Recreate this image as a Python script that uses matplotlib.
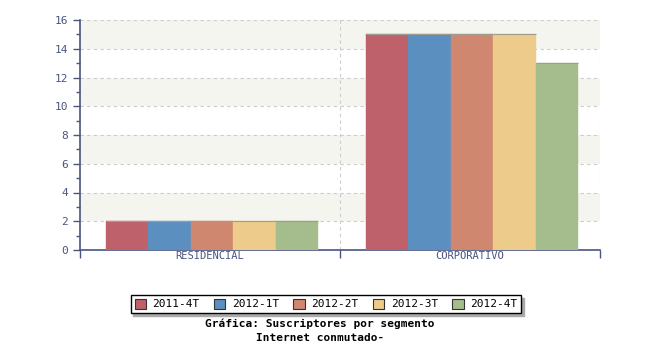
import numpy as np
import matplotlib.pyplot as plt
from matplotlib.ticker import MultipleLocator

categorias = ['RESIDENCIAL', 'CORPORATIVO']
periodos = ['2011-4T', '2012-1T', '2012-2T', '2012-3T', '2012-4T']
valores = {
    '2011-4T': [2, 15],
    '2012-1T': [2, 15],
    '2012-2T': [2, 15],
    '2012-3T': [2, 15],
    '2012-4T': [2, 13],
}
colores = ['#bf616a', '#5b8fbf', '#d0876f', '#eccb8b', '#a5bd8c']

eje = '#4a5580'
mono = 'DejaVu Sans Mono'

fig = plt.figure(figsize=(6.5, 3.5), dpi=100)
ax = fig.add_axes([80/650, 100/350, 520/650, 230/350])

# bandas alternas de fondo
for y0 in range(2, 16, 4):
    ax.axhspan(y0, y0 + 2, color='#f5f5f0', zorder=0, lw=0)

ancho = 0.163
ind = np.arange(len(categorias))
for i, p in enumerate(periodos):
    ax.bar(ind + 0.1 + i * ancho, valores[p], ancho, align='edge',
           color=colores[i], edgecolor=colores[i], linewidth=0.3, zorder=3,
           label=p)
    # linea fina gris arriba de cada barra
    ax.hlines(valores[p], ind + 0.1 + i * ancho, ind + 0.1 + (i + 1) * ancho,
              color='#a09c90', lw=0.8, zorder=4)

ax.set_xlim(0, 2)
ax.set_ylim(0, 16)
ax.yaxis.set_major_locator(MultipleLocator(2))
ax.yaxis.set_minor_locator(MultipleLocator(1))
ax.set_xticks([0, 1, 2])
ax.set_xticklabels([])
ax.set_xticks([0.5, 1.5], minor=True)
ax.set_xticklabels(categorias, minor=True, fontfamily=mono, fontsize=7.5, color=eje)
ax.tick_params(axis='x', which='minor', length=0, pad=1)
ax.tick_params(axis='x', which='major', length=6, direction='out', color=eje, width=1)
ax.tick_params(axis='y', which='major', length=5, color=eje, width=1, labelsize=8,
               labelcolor=eje)
ax.tick_params(axis='y', which='minor', length=3, color=eje, width=1)
for lbl in ax.get_yticklabels():
    lbl.set_fontfamily(mono)

ax.grid(axis='y', which='major', color='#cccccc', linestyle=(0, (3, 3)), lw=0.8, zorder=1)
ax.axvline(1, color='#cccccc', linestyle=(0, (3, 3)), lw=0.8, zorder=1)
ax.axvline(2, color='#cccccc', linestyle=(0, (3, 3)), lw=0.8, zorder=1)

for s in ['top', 'right']:
    ax.spines[s].set_visible(False)
for s in ['left', 'bottom']:
    ax.spines[s].set_color(eje)
    ax.spines[s].set_linewidth(1.2)

leg = fig.legend(loc='center', bbox_to_anchor=(326/650, 1 - 304/350), ncol=5,
                 prop={'family': mono, 'size': 8}, frameon=True, fancybox=False,
                 shadow={'color': '#aaaaaa', 'alpha': 1}, edgecolor='black',
                 handlelength=1.0, handleheight=1.0, handletextpad=0.6,
                 columnspacing=1.3, borderpad=0.35)
leg.get_frame().set_linewidth(1)
for h in leg.legend_handles:
    h.set_edgecolor('#333333')
    h.set_linewidth(0.8)

fig.text(320/650, 1 - 324/350, 'Gráfica: Suscriptores por segmento',
         ha='center', va='center', fontfamily=mono, fontweight='bold', fontsize=8)
fig.text(320/650, 1 - 338/350, 'Internet conmutado-',
         ha='center', va='center', fontfamily=mono, fontweight='bold', fontsize=8)

fig.savefig('out.png', dpi=100)
